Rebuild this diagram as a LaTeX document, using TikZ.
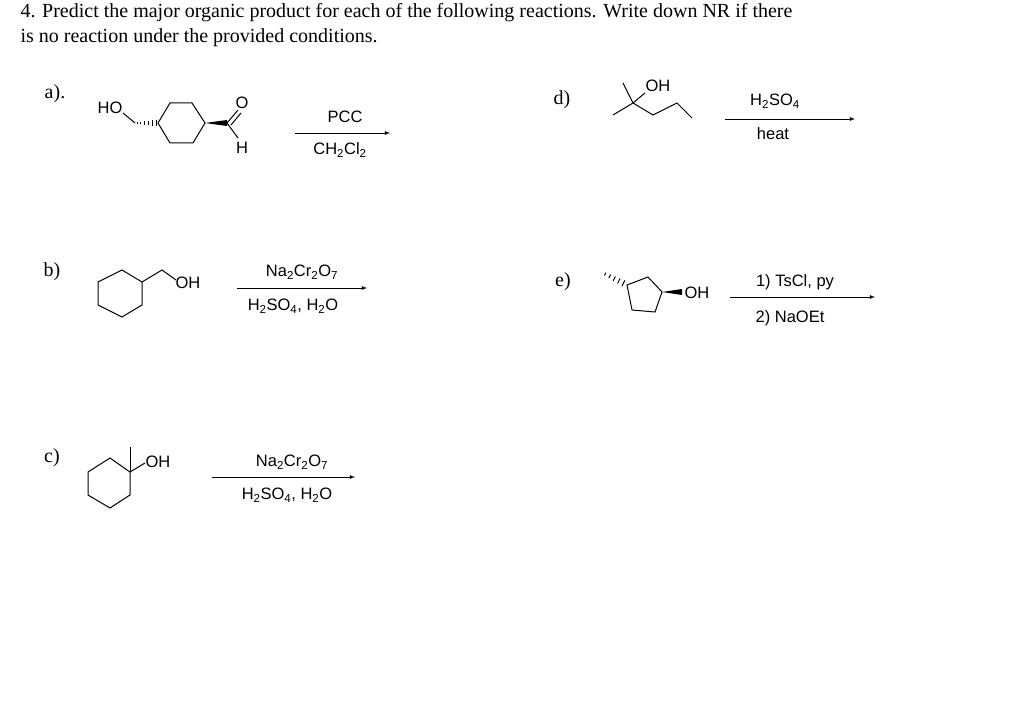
\documentclass[tikz,border=0pt]{standalone}
\usetikzlibrary{calc}
\usepackage{fontspec}
\setmainfont{Liberation Serif}
\setsansfont{Liberation Sans}
\newcommand{\sbs}[1]{\textsubscript{#1}}
\begin{document}
\begin{tikzpicture}[x=1pt,y=-1pt,line width=1pt,
  lab/.style={font=\fontsize{20}{24}\selectfont,inner sep=0pt},
  chem/.style={font=\sffamily\fontsize{16.5}{18}\selectfont,inner sep=1pt},
  rxn/.style={-latex,line width=0.8pt}]
\useasboundingbox (0,0) rectangle (1024,711);
\node[lab,anchor=west] (t1) at (20,13) {4. Predict the major organic product for each of the following reactions. Write down NR if there};
\node[lab,anchor=west] (t2) at (20,38) {is no reaction under the provided conditions.};
% a
\node[lab] (la) at (55,94) {a).};
\draw (158,123)--(170,103)--(192,103)--(205,123)--(193,143)--(170,143)--cycle;
\node[chem] (hoa) at (110,108) {HO};
\draw (123,113)--(135,123);
\foreach \i in {0,...,5}{\pgfmathsetmacro\xx{137+\i*3.8}\pgfmathsetmacro\hh{0.6+\i*0.55}
  \draw[line width=0.9pt] (\xx,123-\hh)--(\xx,123+\hh);}
\fill (205,123)--(227,120)--(227,126)--cycle;
\node[chem] (oa) at (242,103) {O};
\node[chem] (ha) at (242,148) {H};
\draw (227,123)--(238,110);
\draw (231,125)--(241,113);
\draw (227,123)--(238,138);
\coordinate (a1) at (295,133); \coordinate (a2) at (390,133);
\draw[rxn] (a1)--(a2);
\node[chem] at (345,117) {PCC};
\node[chem] at (340,150) {CH\sbs{2}Cl\sbs{2}};
% b
\node[lab] (lb) at (52,272) {b)};
\draw (122,270)--(142,282)--(142,305)--(122,317)--(98,305)--(98,282)--cycle;
\draw (142,282)--(162,270)--(176,280);
\node[chem] (ohb) at (188,283) {OH};
\coordinate (b1) at (237,288); \coordinate (b2) at (367,288);
\draw[rxn] (b1)--(b2);
\node[chem] at (302,272) {Na\sbs{2}Cr\sbs{2}O\sbs{7}};
\node[chem] at (293,306) {H\sbs{2}SO\sbs{4}, H\sbs{2}O};
% c
\node[lab] (lc) at (52,458) {c)};
\draw (130,472)--(110,458)--(88,472)--(88,495)--(110,508)--(130,495)--cycle;
\draw (130,472)--(130,447);
\draw (130,472)--(145,463);
\node[chem] (ohc) at (158,462) {OH};
\coordinate (c1) at (212,477); \coordinate (c2) at (355,477);
\draw[rxn] (c1)--(c2);
\node[chem] at (292,462) {Na\sbs{2}Cr\sbs{2}O\sbs{7}};
\node[chem] at (287,495) {H\sbs{2}SO\sbs{4}, H\sbs{2}O};
% d
\node[lab] (ld) at (562,100) {d)};
\draw (623,83)--(633,103)--(613,115);
\draw (633,103)--(645,93);
\node[chem] (ohd) at (658,86) {OH};
\draw (633,103)--(653,115)--(677,103)--(692,118);
\coordinate (d1) at (725,119); \coordinate (d2) at (855,119);
\draw[rxn] (d1)--(d2);
\node[chem] at (775,101) {H\sbs{2}SO\sbs{4}};
\node[chem] at (773,134) {heat};
% e
\node[lab] (le) at (563,282) {e)};
\draw (627,285)--(648,277)--(662,292)--(655,312)--(632,310)--cycle;
\foreach \i in {0,...,4}{\pgfmathsetmacro\t{0.15+\i*0.19}\pgfmathsetmacro\hh{3.2-\i*0.4}
  \draw[line width=1pt] ($(627,285)!\t!(603,273)+(-\hh*0.45,\hh*0.9)$)--($(627,285)!\t!(603,273)+(\hh*0.45,-\hh*0.9)$);}
\fill (662,292)--(682,289)--(682,295)--cycle;
\node[chem] (ohe) at (697,293) {OH};
\coordinate (e1) at (730,297); \coordinate (e2) at (875,297);
\draw[rxn] (e1)--(e2);
\node[chem] at (795,282) {1) TsCl, py};
\node[chem] at (790,318) {2) NaOEt};
\end{tikzpicture}
\end{document}
